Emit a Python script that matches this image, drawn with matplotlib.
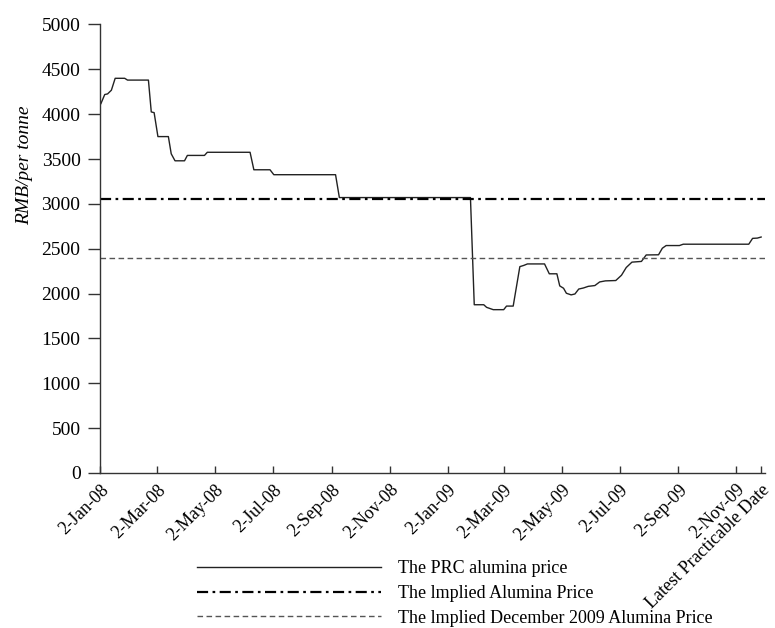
import numpy as np
import pandas as pd
import matplotlib
matplotlib.use('Agg')
import matplotlib.pyplot as plt
import matplotlib.dates as mdates

plt.rcParams['font.family'] = ['Liberation Serif', 'DejaVu Serif']

# PRC alumina price, breakpoints (RMB per tonne)
price_dates = ['2008-01-03', '2008-01-07', '2008-01-10', '2008-01-14', '2008-01-18',
               '2008-01-28', '2008-01-31', '2008-02-22', '2008-02-25', '2008-02-28',
               '2008-03-03', '2008-03-14', '2008-03-17', '2008-03-21', '2008-03-31',
               '2008-04-03', '2008-04-21', '2008-04-24', '2008-06-08', '2008-06-12',
               '2008-06-29', '2008-07-03', '2008-09-06', '2008-09-10', '2009-01-26',
               '2009-01-30', '2009-02-09', '2009-02-12', '2009-02-19', '2009-03-02',
               '2009-03-05', '2009-03-12', '2009-03-19', '2009-03-23', '2009-03-27',
               '2009-04-14', '2009-04-19', '2009-04-27', '2009-04-30', '2009-05-04',
               '2009-05-07', '2009-05-12', '2009-05-16', '2009-05-20', '2009-05-25',
               '2009-05-30', '2009-06-06', '2009-06-11', '2009-06-17', '2009-06-28',
               '2009-07-04', '2009-07-09', '2009-07-15', '2009-07-25', '2009-07-30',
               '2009-08-12', '2009-08-16', '2009-08-20', '2009-09-03', '2009-09-07',
               '2009-11-15', '2009-11-19', '2009-11-24', '2009-11-28']
price_vals = [4118, 4219, 4226, 4267, 4400,
              4400, 4380, 4380, 4025, 4017,
              3750, 3750, 3558, 3480, 3480,
              3540, 3540, 3575, 3575, 3380,
              3380, 3325, 3325, 3070, 3070,
              1875, 1875, 1846, 1820, 1820,
              1860, 1860, 2300, 2313, 2330,
              2330, 2220, 2220, 2085, 2059,
              2003, 1985, 1995, 2050, 2062,
              2080, 2089, 2129, 2141, 2145,
              2204, 2290, 2350, 2358, 2430,
              2432, 2505, 2535, 2535, 2550,
              2550, 2615, 2618, 2630]

implied_price = 3050
implied_dec09_price = 2400

tick_dates = ['2008-01-02', '2008-03-02', '2008-05-02', '2008-07-02', '2008-09-02',
              '2008-11-02', '2009-01-02', '2009-03-02', '2009-05-02', '2009-07-02',
              '2009-09-02', '2009-11-02', '2009-11-28']
tick_labels = ['2-Jan-08', '2-Mar-08', '2-May-08', '2-Jul-08', '2-Sep-08',
               '2-Nov-08', '2-Jan-09', '2-Mar-09', '2-May-09', '2-Jul-09',
               '2-Sep-09', '2-Nov-09', 'Latest Practicable Date']
y_ticks = [0, 500, 1000, 1500, 2000, 2500, 3000, 3500, 4000, 4500, 5000]

x = pd.to_datetime(price_dates)
x0 = pd.Timestamp('2008-01-02')
x1 = pd.Timestamp('2009-12-02')

fig = plt.figure(figsize=(7.75, 6.28), dpi=100)
ax = fig.add_axes([0.129, 0.247, 0.858, 0.714])

ax.plot(x, price_vals, color='#222222', lw=1.0, label='The PRC alumina price')
ax.plot([x0, x1], [implied_price] * 2, color='black', lw=1.6,
        dashes=(5, 2, 1.2, 2), label='The lmplied Alumina Price')
ax.plot([x0, x1], [implied_dec09_price] * 2, color='#555555', lw=1.0,
        dashes=(4, 2.5), label='The lmplied December 2009 Alumina Price')

ax.set_xlim(x0, x1)
ax.set_ylim(0, 5000)
ax.set_yticks(y_ticks)
ax.set_xticks(pd.to_datetime(tick_dates))
ax.set_xticklabels(tick_labels, rotation=45, ha='right', rotation_mode='anchor')

for s in ['top', 'right']:
    ax.spines[s].set_visible(False)
for s in ['left', 'bottom']:
    ax.spines[s].set_color('#333333')
    ax.spines[s].set_linewidth(1.0)

ax.tick_params(axis='y', direction='out', length=9, width=1, color='#333333',
               labelsize=14, pad=5)
ax.tick_params(axis='x', direction='in', length=5, width=1, color='#333333',
               labelsize=13, pad=6)

ax.set_ylabel('RMB/per tonne', fontsize=14, style='italic')
ax.yaxis.set_label_coords(-0.10, 0.686)

fig.legend(loc='upper left', bbox_to_anchor=(0.245, 0.119), frameon=False,
           fontsize=13, handlelength=10.2, handletextpad=0.9, labelspacing=0.42,
           borderaxespad=0)

fig.savefig('out.png', dpi=100)
